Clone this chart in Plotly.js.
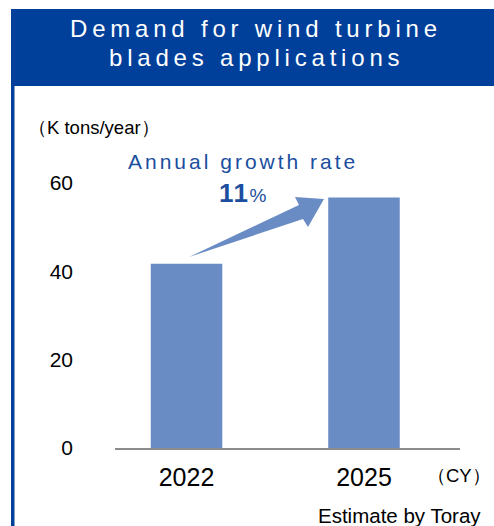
<!DOCTYPE html>
<html><head><meta charset="utf-8">
<script src="https://cdn.plot.ly/plotly-3.0.1.min.js"></script>
<style>html,body{margin:0;padding:0;background:#fff}#chart{width:494px;height:526px}</style>
</head><body><div id="chart"></div>
<script>
// ---- data ----
const categories = ['2022', '2025'];
const demand = [41.7, 56.7];        // K tons/year
const yTickValues = [0, 20, 40, 60];
const yTickLabels = ['0', '20', '40', '60'];
const titleLines = ['Demand for wind turbine', 'blades applications'];
const unitLabel = '（K tons/year）';
const growthLabel = 'Annual growth rate';
const growthValue = '11';
const xUnitLabel = '（CY）';
const sourceLabel = 'Estimate by Toray';

// ---- geometry (pixel frame of plot area) ----
const W = 494, H = 526;
const L = 115, R = 460, T = 183, B = 448;
const px = p => (p - L) / (R - L);
const py = p => (B - p) / (B - T);

const FONT = '"Liberation Sans", Arial, sans-serif';
const DARK = '#00409A';
const BAR = '#6A8CC4';
const TXTBLUE = '#1B4E9E';

const trace = {
  type: 'bar', x: categories, y: demand,
  marker: {color: BAR, line: {width: 0}},
  hoverinfo: 'skip'
};

const arrowPts = [[189,257],[299,205],[295,197],[324,199],[308,227],[303,219]];
const arrowPath = 'M ' + arrowPts.map(p => px(p[0]).toFixed(4) + ',' + py(p[1]).toFixed(4)).join(' L ') + ' Z';

const sp = (t, ls) => '<span style="letter-spacing:' + ls + 'px">' + t + '</span>';

const layout = {
  width: W, height: H,
  margin: {l: L, r: W - R, t: T, b: H - B, pad: 0},
  paper_bgcolor: '#fff', plot_bgcolor: 'rgba(0,0,0,0)',
  font: {family: FONT, color: '#000'},
  showlegend: false,
  bargap: 0.597,
  xaxis: {
    type: 'category', range: [-0.403, 1.541],
    showgrid: false, zeroline: false,
    showline: true, linecolor: '#8C8C8C', linewidth: 1.5,
    ticks: '', tickfont: {size: 25, family: FONT, color: '#000'},
    ticklabelstandoff: 6, fixedrange: true
  },
  yaxis: {
    range: [0, 60], tickvals: yTickValues, ticktext: yTickLabels,
    showgrid: false, zeroline: false, showline: false,
    ticks: '', tickfont: {size: 21, family: FONT, color: '#000'},
    ticklabelstandoff: 41, fixedrange: true
  },
  shapes: [
    {type: 'rect', xref: 'paper', yref: 'paper', x0: px(11), x1: px(510), y0: py(86), y1: py(9),
     fillcolor: DARK, line: {width: 0}, layer: 'below'},
    {type: 'rect', xref: 'paper', yref: 'paper', x0: px(11), x1: px(14.5), y0: py(540), y1: py(86),
     fillcolor: DARK, line: {width: 0}, layer: 'below'},
    {type: 'path', xref: 'paper', yref: 'paper', path: arrowPath,
     fillcolor: BAR, line: {width: 0}, layer: 'above'}
  ],
  annotations: [
    {xref: 'paper', yref: 'paper', x: px(256), y: py(29), xanchor: 'center', yanchor: 'middle',
     text: sp(titleLines[0], 4.8), showarrow: false, font: {size: 24, color: '#fff', family: FONT}},
    {xref: 'paper', yref: 'paper', x: px(256), y: py(57), xanchor: 'center', yanchor: 'middle',
     text: sp(titleLines[1], 4.8), showarrow: false, font: {size: 24, color: '#fff', family: FONT}},
    {xref: 'paper', yref: 'paper', x: px(26), y: py(127), xanchor: 'left', yanchor: 'middle',
     text: unitLabel, showarrow: false, font: {size: 18.5, color: '#000', family: FONT}},
    {xref: 'paper', yref: 'paper', x: px(243), y: py(161), xanchor: 'center', yanchor: 'middle',
     text: sp(growthLabel, 3), showarrow: false, font: {size: 21, color: TXTBLUE, family: FONT}},
    {xref: 'paper', yref: 'paper', x: px(243), y: py(193), xanchor: 'center', yanchor: 'middle',
     text: '<b>' + sp(growthValue, 1.5) + '</b><span style="font-size:19px">%</span>',
     showarrow: false, font: {size: 26, color: TXTBLUE, family: FONT}},
    {xref: 'paper', yref: 'paper', x: px(425), y: py(475), xanchor: 'left', yanchor: 'middle',
     text: xUnitLabel, showarrow: false, font: {size: 18.5, color: '#000', family: FONT}},
    {xref: 'paper', yref: 'paper', x: px(483), y: py(515), xanchor: 'right', yanchor: 'middle',
     text: sourceLabel, showarrow: false, font: {size: 20.5, color: '#000', family: FONT}}
  ]
};

Plotly.newPlot('chart', [trace], layout, {displayModeBar: false, staticPlot: true});
</script></body></html>
